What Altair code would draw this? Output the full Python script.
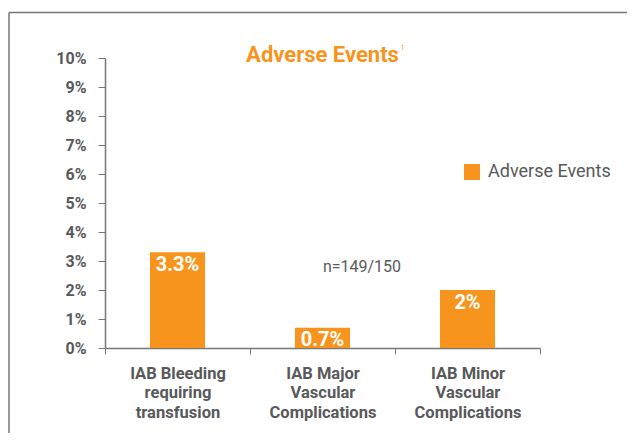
import altair as alt
import pandas as pd

categories = [
    "IAB Bleeding\nrequiring\ntransfusion",
    "IAB Major\nVascular\nComplications",
    "IAB Minor\nVascular\nComplications",
]
values = [3.3, 0.7, 2.0]
value_labels = ["3.3%", "0.7%", "2%"]
series = ["Adverse Events"] * 3
y_ticks = list(range(0, 11))

ORANGE = "#F7941D"
GREY = "#58595B"
FONT = "Roboto"

W, H = 435, 290
PAD = {"left": 97, "top": 50, "right": 87, "bottom": 85}

df = pd.DataFrame({"cat": categories, "val": values, "lab": value_labels, "series": series})

x_enc = alt.X(
    "cat:N",
    sort=categories,
    scale=alt.Scale(paddingInner=0, paddingOuter=0),
    axis=alt.Axis(
        title=None,
        labelAngle=0,
        labelExpr="split(datum.label, '\\n')",
        labelFont=FONT,
        labelFontWeight="bold",
        labelFontSize=16.5,
        labelColor=GREY,
        labelLineHeight=19.5,
        labelPadding=11,
        labelBaseline="top",
        tickBand="extent",
        tickSize=6,
        tickColor="#777777",
        domainColor="#777777",
        domainWidth=1.5,
    ),
)

y_enc = alt.Y(
    "val:Q",
    scale=alt.Scale(domain=[0, 10], nice=False),
    axis=alt.Axis(
        title=None,
        values=y_ticks,
        labelExpr="datum.value + '%'",
        labelFont=FONT,
        labelFontWeight="bold",
        labelFontSize=16,
        labelColor=GREY,
        labelPadding=12,
        labelOverlap=False,
        tickSize=7,
        tickColor="#777777",
        domainColor="#777777",
        domainWidth=1.5,
        grid=False,
    ),
)

bars = alt.Chart(df).mark_bar(width=alt.RelativeBandSize(0.38)).encode(
    x=x_enc,
    y=y_enc,
    color=alt.Color(
        "series:N",
        scale=alt.Scale(range=[ORANGE]),
        legend=alt.Legend(
            title=None,
            orient="none",
            legendX=358,
            legendY=105,
            symbolType="square",
            symbolSize=256,
            symbolStrokeWidth=0,
            labelFont=FONT,
            labelFontSize=18,
            labelColor=GREY,
            labelOffset=7,
            padding=0,
        ),
    ),
)

bar_text = alt.Chart(df).mark_text(
    baseline="top", dy=2.5, color="white", font=FONT, fontWeight="bold", fontSize=20
).encode(x=x_enc, y=y_enc, text="lab:N")

title = alt.Chart(pd.DataFrame({"t": ["Adverse Events"]})).mark_text(
    color=ORANGE, font=FONT, fontWeight="bold", fontSize=22, align="center", baseline="middle"
).encode(x=alt.value(W / 2), y=alt.value(-3), text="t:N")

sup = alt.Chart(pd.DataFrame({"t": ["1"]})).mark_text(
    color=ORANGE, font=FONT, fontSize=7, align="left", baseline="middle"
).encode(x=alt.value(W / 2 + 78), y=alt.value(-10), text="t:N")

note = alt.Chart(pd.DataFrame({"t": ["n=149/150"]})).mark_text(
    color=GREY, font=FONT, fontSize=16, align="center", baseline="middle"
).encode(x=alt.value(257), y=alt.value(209), text="t:N")

frame_left = alt.Chart(pd.DataFrame({"a": [0]})).mark_rule(color="#777777", strokeWidth=1.5).encode(
    x=alt.value(-96), y=alt.value(-45.5), y2=alt.value(H + PAD["bottom"] + 5)
)
frame_top = alt.Chart(pd.DataFrame({"a": [0]})).mark_rule(color="#777777", strokeWidth=1.5).encode(
    x=alt.value(-96), x2=alt.value(W + PAD["right"] + 5), y=alt.value(-45.5)
)

chart = alt.layer(frame_left, frame_top, bars, bar_text, title, sup, note).properties(
    width=W,
    height=H,
    padding=PAD,
    autosize=alt.AutoSizeParams(type="none"),
    background="white",
).configure_view(stroke=None)

chart.save("out.html", embed_options={"renderer": "svg", "actions": False})
